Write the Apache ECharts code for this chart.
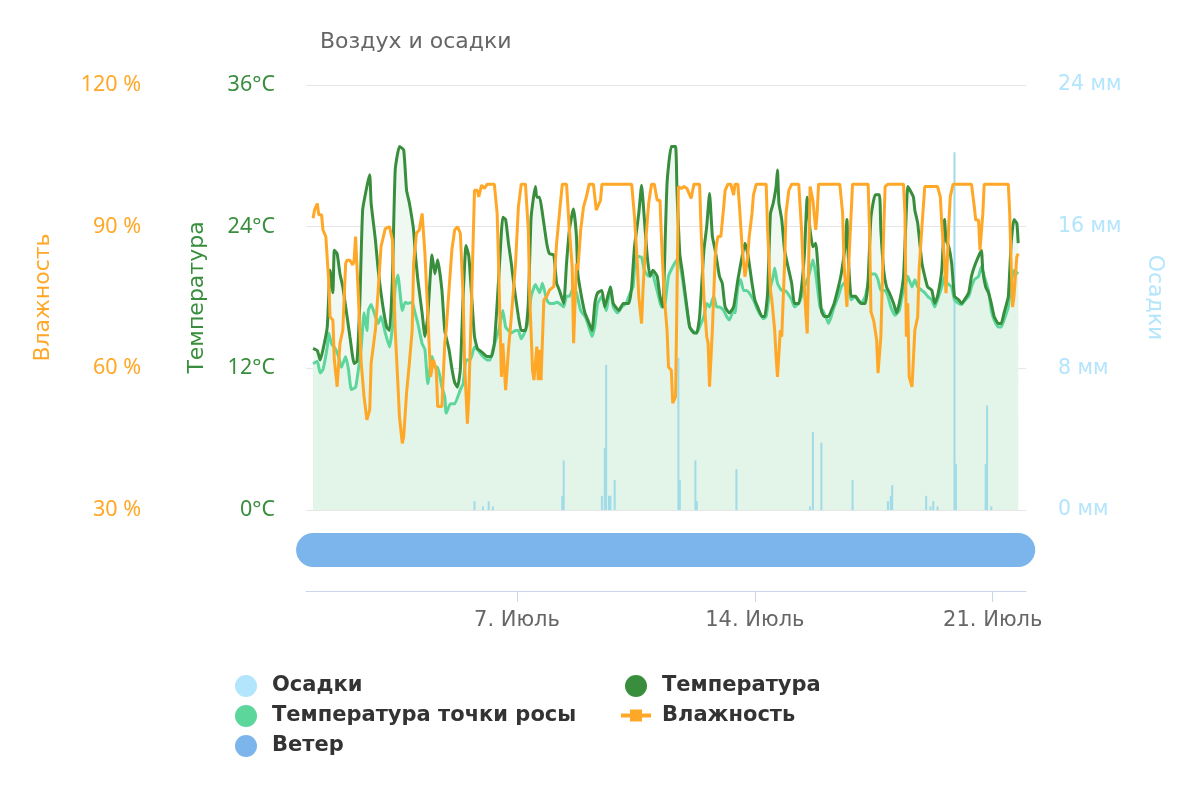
<!DOCTYPE html>
<html><head><meta charset="utf-8">
<script src="https://cdn.jsdelivr.net/npm/echarts@6/dist/echarts.min.js"></script>
<style>html,body{margin:0;padding:0;background:#fff}#c{width:1200px;height:800px}</style>
</head><body><div id="c"></div>
<script>
// x values are hours since 1 July 00:00
const tickHours = [144, 312, 480];
const tickLabels = ['7. Июль', '14. Июль', '21. Июль'];

const tempData = [[0,13.7],[3,13.5],[5,12.7],[7,13.6],[10,15.5],[12,20.3],[14,18.4],[15,22.0],[17,21.7],[19,20.0],[21,18.9],[24,16.4],[26,14.7],[29,12.4],[31,12.6],[33,17.5],[35,25.4],[38,27.4],[40,28.4],[41,26.0],[44,22.9],[46,20.3],[49,17.5],[52,15.5],[54,15.2],[56,19.5],[58,28.8],[61,30.8],[64,30.5],[66,27.1],[68,26.0],[71,23.7],[72,22.0],[74,19.5],[77,16.7],[79,14.7],[81,16.4],[84,21.6],[86,20.0],[88,21.2],[91,18.6],[93,15.2],[96,13.6],[98,12.0],[100,10.8],[102,10.4],[104,11.9],[106,18.1],[108,22.4],[110,21.5],[112,18.1],[114,14.7],[116,13.7],[119,13.4],[123,13.0],[126,13.0],[128,14.1],[130,17.5],[132,21.5],[134,24.8],[136,24.6],[138,22.6],[140,20.9],[142,18.9],[145,16.4],[147,15.2],[150,15.2],[152,17.5],[154,24.8],[157,27.4],[158,26.5],[160,26.5],[162,25.1],[165,22.6],[167,21.7],[170,21.6],[172,19.2],[174,18.6],[177,17.5],[179,20.9],[181,23.7],[183,25.1],[184,25.5],[186,23.2],[187,20.0],[190,17.8],[192,16.7],[194,16.1],[197,15.2],[199,17.5],[201,18.4],[204,18.6],[206,17.2],[210,18.9],[212,17.5],[216,16.9],[219,17.5],[223,17.5],[225,18.9],[227,22.3],[230,25.1],[232,27.5],[234,24.6],[236,21.5],[238,19.8],[240,20.3],[243,19.8],[245,18.1],[247,17.2],[248,20.0],[250,27.7],[253,30.8],[256,30.8],[257,27.1],[259,21.7],[261,20.0],[264,17.2],[266,15.5],[269,15.0],[271,15.0],[273,16.4],[276,22.0],[278,24.0],[280,26.8],[282,23.2],[284,22.0],[287,19.8],[289,19.2],[291,17.2],[294,16.7],[297,17.2],[300,19.5],[303,21.5],[305,22.6],[307,21.7],[310,19.2],[312,17.8],[314,17.2],[317,16.4],[319,16.4],[321,18.4],[323,25.1],[325,26.0],[327,27.4],[328,28.8],[329,26.0],[331,24.6],[333,22.0],[336,20.3],[338,19.2],[340,17.5],[343,17.5],[345,18.9],[347,21.7],[349,26.5],[351,23.7],[353,22.3],[355,22.6],[357,19.8],[359,16.9],[361,16.4],[364,16.4],[366,16.9],[368,17.5],[371,18.9],[373,20.0],[376,22.6],[377,24.6],[378,21.5],[380,18.1],[383,18.1],[385,17.8],[387,17.5],[390,17.5],[392,19.5],[394,24.8],[397,26.7],[400,26.7],[401,23.7],[403,20.3],[405,18.9],[407,18.4],[410,17.5],[412,16.7],[414,17.5],[417,19.8],[419,25.4],[420,27.4],[422,27.0],[424,26.5],[425,25.4],[427,24.3],[430,20.9],[432,19.8],[434,18.9],[437,18.6],[439,17.5],[441,18.1],[444,20.3],[446,24.6],[447,22.9],[449,22.3],[451,20.9],[453,18.1],[456,17.8],[458,17.5],[460,17.8],[463,18.4],[465,19.8],[467,20.6],[470,21.5],[472,22.0],[473,20.3],[475,18.9],[477,18.4],[479,17.5],[481,16.4],[484,15.8],[486,15.8],[488,16.7],[491,18.1],[493,22.6],[495,24.6],[497,24.3],[498,22.6]];

const dewData = [[0,12.4],[3,12.6],[5,11.6],[7,11.9],[10,13.8],[11,15.0],[13,14.1],[16,13.6],[18,13.0],[20,12.1],[23,13.0],[25,11.9],[27,10.2],[30,10.4],[32,11.9],[34,13.8],[36,16.7],[38,15.2],[39,16.9],[41,17.4],[44,16.4],[46,15.8],[48,16.4],[51,15.0],[54,13.8],[56,15.5],[58,18.9],[60,19.9],[61,18.9],[63,16.9],[65,17.6],[67,17.5],[70,17.6],[72,16.7],[74,15.8],[77,14.1],[79,13.6],[81,10.7],[84,13.0],[86,12.1],[88,12.1],[91,10.4],[93,9.6],[94,8.2],[97,9.0],[100,9.0],[104,10.2],[106,10.7],[108,12.7],[111,12.7],[114,13.8],[116,13.6],[118,13.3],[120,13.0],[123,12.7],[125,12.7],[127,13.6],[131,15.2],[134,16.9],[136,15.5],[138,15.2],[140,15.0],[143,15.2],[145,15.2],[147,14.5],[150,15.2],[152,16.1],[154,18.1],[157,19.1],[160,18.4],[162,19.2],[165,17.8],[167,17.5],[170,17.5],[172,17.6],[174,17.5],[177,17.2],[179,18.1],[181,18.1],[184,18.9],[186,18.4],[189,16.9],[192,16.4],[194,15.8],[197,14.7],[199,15.6],[201,17.5],[204,18.1],[207,16.9],[210,18.9],[212,17.2],[215,16.7],[218,17.2],[221,17.5],[224,18.4],[226,18.9],[228,21.5],[232,21.4],[234,20.3],[237,19.8],[240,20.0],[241,19.5],[244,18.1],[246,17.2],[248,17.2],[251,19.8],[254,20.6],[257,21.2],[259,20.9],[261,19.5],[264,16.9],[266,15.5],[268,15.2],[271,15.0],[273,15.5],[276,16.4],[278,17.5],[280,17.2],[283,18.1],[285,17.2],[287,17.2],[290,16.9],[292,16.4],[294,16.1],[297,16.9],[298,16.7],[300,18.9],[302,19.5],[304,18.6],[306,18.6],[308,18.4],[311,17.8],[313,17.2],[315,16.7],[318,16.2],[320,16.4],[323,18.9],[325,19.8],[326,20.5],[328,19.2],[331,18.6],[333,18.6],[335,18.4],[338,17.8],[340,17.2],[343,17.5],[345,18.1],[347,18.9],[350,19.8],[353,21.2],[355,20.0],[358,17.2],[360,16.9],[363,16.1],[364,15.8],[366,16.4],[368,17.2],[371,18.1],[373,18.9],[375,19.2],[378,18.9],[380,17.8],[383,18.1],[385,17.7],[387,17.5],[390,18.1],[392,19.2],[394,20.0],[397,20.0],[399,19.5],[401,18.6],[404,18.6],[406,18.1],[408,17.2],[411,16.5],[414,16.9],[416,18.1],[418,18.9],[420,19.8],[423,18.9],[425,19.5],[427,18.9],[430,18.6],[432,18.4],[434,18.1],[437,17.8],[439,17.2],[441,17.8],[444,18.9],[446,19.8],[448,19.2],[451,18.9],[453,17.8],[456,17.5],[458,17.4],[460,17.7],[463,18.1],[465,18.9],[467,19.5],[470,19.8],[472,20.6],[474,19.8],[477,18.6],[479,16.9],[481,16.1],[484,15.5],[486,15.5],[488,16.1],[491,17.2],[493,19.2],[495,20.3],[498,20.0]];

const humidityData = [[0,91.8],[1,93.5],[3,94.9],[4,92.5],[6,92.5],[7,89.3],[9,87.9],[11,78.7],[12,70.9],[14,70.2],[15,61.8],[17,56.1],[19,65.3],[21,68.1],[23,82.2],[24,82.9],[26,82.9],[28,81.9],[29,82.9],[30,87.9],[32,75.2],[34,61.1],[36,54.0],[38,49.1],[40,51.2],[41,61.1],[44,68.1],[46,76.6],[48,85.8],[51,89.6],[54,90.0],[56,87.2],[58,68.1],[60,56.1],[61,49.8],[63,44.1],[64,45.5],[66,54.7],[68,61.1],[70,68.1],[71,82.2],[73,88.6],[75,89.3],[77,92.8],[79,84.3],[81,71.6],[83,58.2],[85,61.8],[87,59.6],[88,51.9],[91,51.9],[93,65.3],[94,68.1],[96,76.6],[98,85.0],[100,89.3],[102,90.0],[104,88.6],[106,75.2],[107,61.1],[109,48.3],[110,54.0],[112,75.2],[114,97.7],[116,97.7],[117,96.3],[119,98.8],[121,98.1],[123,99],[128,99],[130,92.8],[131,82.2],[133,58.2],[134,65.3],[136,55.4],[138,63.9],[140,70.9],[143,82.2],[145,94.2],[147,99],[150,99],[152,89.3],[153,75.2],[155,59.6],[156,57.5],[158,64.6],[159,57.5],[160,63.9],[161,57.5],[163,74.5],[165,75.2],[167,76.6],[170,77.3],[172,86.5],[174,92.8],[176,99],[179,99],[181,89.3],[183,81.5],[184,65.3],[186,82.2],[187,80.8],[189,89.3],[191,94.2],[193,96.3],[195,99],[198,99],[200,93.5],[201,93.2],[203,95.6],[204,99],[225,99],[227,92.1],[229,82.2],[230,75.2],[232,69.5],[233,76.6],[235,87.2],[237,94.9],[239,99],[241,99],[243,95.6],[245,95.6],[246,87.9],[248,75.2],[250,68.1],[251,60.3],[253,59.6],[254,52.6],[256,54.0],[257,75.2],[258,98.5],[260,98.1],[262,98.5],[264,98.1],[265,98.5],[267,96.0],[269,99],[273,99],[274,89.3],[276,75.2],[278,66.7],[279,65.3],[280,56.1],[282,68.1],[284,83.6],[285,86.5],[286,87.9],[288,87.9],[290,94.2],[291,97.7],[293,99],[295,99],[297,96.7],[298,99],[300,99],[301,94.9],[303,85.8],[305,79.4],[307,83.6],[308,87.9],[310,92.8],[311,96.7],[313,99],[320,99],[321,89.3],[323,76.6],[324,74.5],[326,68.1],[327,62.5],[328,58.2],[330,68.1],[331,66.7],[333,82.2],[334,92.8],[336,97.7],[338,99],[343,99],[344,94.2],[345,89.3],[346,82.2],[348,71.6],[349,67.4],[350,82.2],[351,98.5],[353,95.6],[355,89.3],[356,92.8],[357,99],[372,99],[374,92.8],[375,82.2],[377,73.0],[378,80.1],[380,92.8],[381,99],[392,99],[393,89.3],[394,72.0],[396,70.0],[398,66.0],[399,59.0],[401,66.7],[403,89.3],[404,98.5],[406,99],[417,99],[418,92.8],[419,66.7],[420,73.8],[421,58.2],[423,56.1],[424,56.1],[425,68.1],[427,70.9],[428,80.8],[430,90.0],[432,98.5],[441,98.5],[443,96.3],[444,90.7],[446,82.2],[447,75.9],[449,90.7],[450,96.3],[452,99],[465,99],[467,94.2],[468,91.4],[470,91.4],[471,85.0],[473,92.8],[474,99],[491,99],[492,92.8],[493,82.2],[494,73.0],[495,75.2],[497,83.6],[498,84.3]];

const precipData = [[114,0.5],[120,0.2],[124,0.5],[127,0.2],[176,0.8],[177,2.8],[204,0.8],[206,3.5],[207,8.2],[209,0.8],[210,0.8],[213,1.7],[258,8.6],[259,1.7],[270,2.8],[271,0.5],[299,2.3],[351,0.2],[353,4.4],[359,3.8],[381,1.7],[406,0.5],[408,0.8],[409,1.4],[433,0.8],[436,0.2],[438,0.5],[441,0.2],[453,20.2],[454,2.6],[475,2.6],[476,5.9],[479,0.2]];

const windData = [[0,1],[498,1]];

const FONT = '"DejaVu Sans", "Noto Sans", sans-serif';
const NUMFONT = '"Noto Sans", sans-serif';
const chart = echarts.init(document.getElementById('c'), null, {renderer: 'canvas'});
const humIcon = 'path://M0,4 L9,4 L9,0 L21,0 L21,4 L30,4 L30,8 L21,8 L21,12 L9,12 L9,8 L0,8 Z';
const legendText = {fontFamily: FONT, fontSize: 21, fontWeight: 'bold', color: '#333', padding: [0, 0, 0, 6]};

chart.setOption({
  animation: false,
  title: {text: 'Воздух и осадки', left: 315, top: 26,
    textStyle: {fontFamily: FONT, fontSize: 22, fontWeight: 'normal', color: '#666'}},
  grid: [
    {left: 306, right: 174, top: 85, bottom: 290},
    {left: 306, right: 174, top: 509, bottom: 209}
  ],
  xAxis: [
    {type: 'value', gridIndex: 0, min: -5, max: 503.5, show: false},
    {type: 'value', gridIndex: 1, min: -5, max: 503.5,
      axisLine: {show: true, lineStyle: {color: '#ccd6eb', width: 1}},
      axisTick: {show: true, customValues: tickHours, length: 11, lineStyle: {color: '#ccd6eb'}},
      axisLabel: {customValues: tickHours, formatter: v => tickLabels[tickHours.indexOf(v)],
        color: '#666', fontSize: 21, fontFamily: FONT, margin: 19},
      splitLine: {show: false}}
  ],
  yAxis: [
    {type: 'value', gridIndex: 0, position: 'left', min: 0, max: 36, interval: 12,
      axisLabel: {formatter: '{value}°C', color: '#388e3c', fontSize: 21.5, fontFamily: NUMFONT, margin: 31},
      splitLine: {lineStyle: {color: '#e6e6e6', width: 1}}, axisLine: {show: false}, axisTick: {show: false},
      name: 'Температура', nameLocation: 'middle', nameGap: 98, nameRotate: 90,
      nameTextStyle: {color: '#388e3c', fontSize: 22, fontFamily: FONT}},
    {type: 'value', gridIndex: 0, position: 'left', offset: 135, min: 30, max: 120, interval: 30,
      axisLabel: {formatter: '{value} %', color: '#ffa726', fontSize: 21.5, fontFamily: NUMFONT, margin: 30},
      splitLine: {show: false}, axisLine: {show: false}, axisTick: {show: false},
      name: 'Влажность', nameLocation: 'middle', nameGap: 117, nameRotate: 90,
      nameTextStyle: {color: '#ffa726', fontSize: 22, fontFamily: FONT}},
    {type: 'value', gridIndex: 0, position: 'right', min: 0, max: 24, interval: 8,
      axisLabel: {formatter: '{value} мм', color: '#b3e5fc', fontSize: 20.5, fontFamily: FONT, margin: 32},
      splitLine: {show: false}, axisLine: {show: false}, axisTick: {show: false},
      name: 'Осадки', nameLocation: 'middle', nameGap: 118, nameRotate: -90,
      nameTextStyle: {color: '#b3e5fc', fontSize: 22, fontFamily: FONT}},
    {type: 'value', gridIndex: 1, min: 0, max: 2, show: false}
  ],
  legend: [
    {orient: 'vertical', left: 230, top: 670, itemWidth: 30, itemHeight: 22, itemGap: 8,
      icon: 'circle', itemStyle: {borderWidth: 0}, textStyle: legendText,
      data: [{name: 'Осадки', itemStyle: {color: '#b3e5fc'}}, 'Температура точки росы', 'Ветер']},
    {orient: 'vertical', left: 616, top: 670, itemWidth: 30, itemHeight: 22, itemGap: 8,
      icon: 'circle', itemStyle: {borderWidth: 0}, textStyle: legendText,
      data: ['Температура', {name: 'Влажность', icon: humIcon}]}
  ],
  series: [
    {name: 'tempArea', type: 'line', xAxisIndex: 0, yAxisIndex: 0, data: tempData, smooth: 0.15,
      showSymbol: false, silent: true, lineStyle: {width: 0}, areaStyle: {color: '#f0f8f2', opacity: 1}, z: 1},
    {name: 'dewArea', type: 'line', xAxisIndex: 0, yAxisIndex: 0, data: dewData, smooth: 0.15,
      showSymbol: false, silent: true, lineStyle: {width: 0}, areaStyle: {color: '#e3f4e8', opacity: 1}, z: 1},
    {name: 'Осадки', type: 'bar', xAxisIndex: 0, yAxisIndex: 2, data: precipData, barWidth: 2,
      itemStyle: {color: '#9fdbe8'}, z: 2},
    {name: 'Температура точки росы', type: 'line', xAxisIndex: 0, yAxisIndex: 0, data: dewData, smooth: 0.15,
      showSymbol: false, lineStyle: {width: 3, color: '#5cd69b'}, itemStyle: {color: '#5cd69b'}, z: 3},
    {name: 'Температура', type: 'line', xAxisIndex: 0, yAxisIndex: 0, data: tempData, smooth: 0.15,
      showSymbol: false, lineStyle: {width: 3, color: '#388e3c'}, itemStyle: {color: '#388e3c'}, z: 4},
    {name: 'Влажность', type: 'line', xAxisIndex: 0, yAxisIndex: 1, data: humidityData,
      showSymbol: false, lineStyle: {width: 3, color: '#ffa726'}, itemStyle: {color: '#ffa726'}, z: 5},
    {name: 'Ветер', type: 'line', xAxisIndex: 1, yAxisIndex: 3, data: windData,
      showSymbol: false, lineStyle: {width: 34, color: '#7cb5ec', cap: 'round'}, itemStyle: {color: '#7cb5ec'}, z: 3}
  ]
});
</script>
</body></html>
